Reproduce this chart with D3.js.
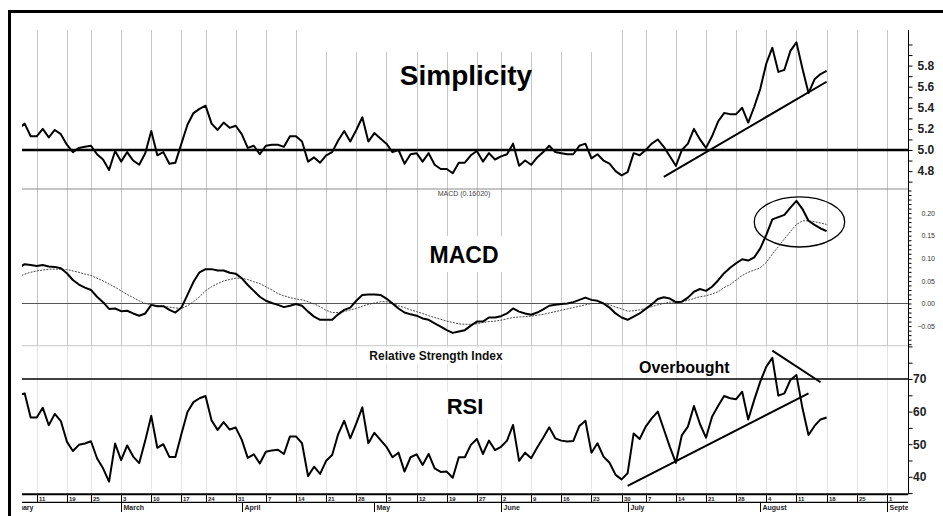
<!DOCTYPE html>
<html>
<head>
<meta charset="utf-8">
<script src="https://cdnjs.cloudflare.com/ajax/libs/d3/7.8.5/d3.min.js"></script>
<style>
  body { margin: 0; background: #fff; }
  svg { display: block; font-family: "Liberation Sans", Arial, sans-serif; }
</style>
</head>
<body>
<svg id="chart" width="943" height="516"></svg>
<script>
// ---- calendar ----
const holidays = ["2008-02-18", "2008-03-21", "2008-05-26", "2008-07-04", "2008-09-01"];
const dataStart = "2008-02-06";
const weekTicks = ["2008-02-11", "2008-02-19", "2008-02-25", "2008-03-03", "2008-03-10", "2008-03-17",
  "2008-03-24", "2008-03-31", "2008-04-07", "2008-04-14", "2008-04-21", "2008-04-28", "2008-05-05",
  "2008-05-12", "2008-05-19", "2008-05-27", "2008-06-02", "2008-06-09", "2008-06-16", "2008-06-23",
  "2008-06-30", "2008-07-07", "2008-07-14", "2008-07-21", "2008-07-28", "2008-08-04", "2008-08-11",
  "2008-08-18", "2008-08-25", "2008-09-01"];
const monthNames = ["February", "March", "April", "May", "June", "July", "August", "September"];
const monthStarts = ["2008-02-01", "2008-03-03", "2008-04-01", "2008-05-01", "2008-06-02", "2008-07-01",
  "2008-08-01", "2008-09-01"];

// ---- series, one value per trading day from Feb 6 to Aug 18 ----
const simplicity = [
  5.20, 5.25, 5.13,
  5.13, 5.20, 5.12, 5.19, 5.15,
  5.05, 4.98, 5.02, 5.03,
  5.04, 4.96, 4.91, 4.81, 4.99,
  4.89, 4.98, 4.90, 4.86, 4.97,
  5.18, 4.95, 4.98, 4.87, 4.88,
  5.06, 5.24, 5.35, 5.39,
  5.42, 5.25, 5.19, 5.26, 5.21,
  5.23, 5.15, 5.02, 5.04, 4.96,
  5.04, 5.05, 5.05, 5.03, 5.13,
  5.13, 5.08, 4.89, 4.93, 4.88,
  4.95, 4.98, 5.09, 5.18, 5.08,
  5.19, 5.31, 5.08, 5.16, 5.11,
  5.06, 4.98, 5.00, 4.87, 4.96,
  4.97, 4.89, 4.97, 4.86, 4.82,
  4.82, 4.78, 4.88, 4.88, 4.95,
  4.99, 4.89, 4.97, 4.91,
  4.94, 4.96, 5.06, 4.85, 4.90,
  4.86, 4.93, 4.98, 5.04, 4.98,
  4.97, 4.96, 4.96, 5.04, 5.06,
  4.92, 4.96, 4.90, 4.87, 4.80,
  4.76, 4.79, 4.97, 4.95,
  5.00, 5.06, 5.10, 5.03, 4.94,
  4.85, 5.00, 5.06, 5.20, 5.10,
  5.02, 5.13, 5.27, 5.35, 5.34,
  5.34, 5.40, 5.26, 5.41, 5.58,
  5.82, 5.97, 5.74, 5.76, 5.94,
  6.02, 5.77, 5.54, 5.67, 5.72,
  5.75
];
const macd = [
  0.079, 0.087, 0.085,
  0.083, 0.085, 0.082, 0.081, 0.078,
  0.067, 0.052, 0.042, 0.035,
  0.030, 0.015, 0.003, -0.012, -0.011,
  -0.017, -0.016, -0.022, -0.027, -0.022,
  -0.003, -0.006, -0.006, -0.014, -0.020,
  -0.009, 0.019, 0.048, 0.069,
  0.076, 0.076, 0.073, 0.073, 0.068,
  0.066, 0.056, 0.041, 0.028, 0.015,
  0.006, 0.001, -0.003, -0.008, -0.005,
  -0.001, -0.005, -0.018, -0.029, -0.036,
  -0.036, -0.036, -0.024, -0.014, -0.009,
  0.006, 0.019, 0.020, 0.020, 0.019,
  0.011, 0.000, -0.011, -0.020, -0.024,
  -0.027, -0.033, -0.036, -0.044, -0.051,
  -0.059, -0.065, -0.062, -0.059, -0.049,
  -0.040, -0.040, -0.031, -0.031,
  -0.028, -0.022, -0.011, -0.018, -0.022,
  -0.025, -0.020, -0.013, -0.005, -0.003,
  -0.001, 0.000, 0.003, 0.008, 0.013,
  0.008, 0.006, 0.000, -0.009, -0.022,
  -0.031, -0.036, -0.029, -0.022,
  -0.012, -0.002, 0.010, 0.014, 0.011,
  0.003, 0.004, 0.013, 0.026, 0.032,
  0.028, 0.037, 0.051, 0.067, 0.079,
  0.089, 0.098, 0.095, 0.102, 0.122,
  0.152, 0.186, 0.191, 0.196, 0.212,
  0.227, 0.209, 0.183, 0.174, 0.166,
  0.160
];
const signal = [
  0.059, 0.065, 0.069,
  0.072, 0.074, 0.076, 0.076, 0.076,
  0.075, 0.072, 0.069, 0.065,
  0.062, 0.056, 0.050, 0.043, 0.036,
  0.028, 0.020, 0.013, 0.006, 0.000,
  -0.003, -0.005, -0.006, -0.008, -0.010,
  -0.011, -0.005, 0.004, 0.015,
  0.028, 0.037, 0.044, 0.050, 0.053,
  0.056, 0.056, 0.053, 0.048, 0.044,
  0.037, 0.030, 0.022, 0.017, 0.013,
  0.010, 0.008, 0.004, -0.001, -0.007,
  -0.015, -0.020, -0.020, -0.018, -0.014,
  -0.011, -0.006, -0.002, 0.001, 0.004,
  0.004, 0.001, -0.005, -0.009, -0.014,
  -0.018, -0.022, -0.027, -0.031, -0.035,
  -0.039, -0.042, -0.045, -0.046, -0.046,
  -0.045, -0.042, -0.040, -0.039,
  -0.037, -0.034, -0.031, -0.030, -0.029,
  -0.028, -0.026, -0.024, -0.021, -0.018,
  -0.015, -0.012, -0.009, -0.006, -0.003,
  0.000, 0.000, 0.000, -0.003, -0.008,
  -0.012, -0.017, -0.016, -0.014,
  -0.011, -0.007, -0.003, 0.000, 0.003,
  0.003, 0.004, 0.007, 0.011, 0.015,
  0.017, 0.021, 0.026, 0.035, 0.042,
  0.052, 0.062, 0.069, 0.074, 0.079,
  0.091, 0.109, 0.126, 0.143, 0.159,
  0.175, 0.183, 0.183, 0.181, 0.178,
  0.175
];
const rsi = [
  65.0, 65.6, 58.2,
  58.2, 61.2, 55.8, 59.3, 57.1,
  50.8, 47.9, 49.8, 50.2,
  50.9, 45.7, 42.6, 38.5, 50.2,
  45.1, 49.6, 46.2, 44.2, 51.1,
  58.7, 48.9, 50.0, 46.1, 46.1,
  53.1, 59.9, 62.9, 64.1,
  64.8, 57.3, 54.4, 56.8, 54.5,
  55.1, 51.4, 45.8, 46.9, 44.1,
  47.7, 48.1, 48.3, 47.0, 52.4,
  52.4, 50.3, 40.2, 43.1, 40.9,
  44.9, 46.7, 53.1, 57.2, 51.8,
  56.4, 61.3, 50.3, 53.5, 51.3,
  49.2, 46.0, 47.4, 41.6, 46.0,
  46.9, 43.6, 47.0, 42.6, 41.5,
  41.6, 39.7, 46.0, 46.0, 49.8,
  51.6, 47.0, 51.1, 48.2,
  49.2, 51.1, 55.9, 44.9, 47.4,
  45.7, 49.0, 52.0, 55.2, 51.8,
  51.1, 50.8, 51.0, 55.6, 57.2,
  47.4, 50.3, 46.2, 44.3, 40.6,
  39.2, 41.1, 53.3, 51.6,
  55.4, 57.9, 60.0, 54.6, 49.2,
  44.3, 52.8, 55.4, 61.7, 56.2,
  52.0, 58.4, 61.7, 64.8, 64.1,
  63.8, 66.1, 57.6, 63.6, 69.2,
  73.8, 76.5, 64.9, 65.6, 69.7,
  71.2, 61.0, 52.8, 55.6, 57.6,
  58.2
];

// ---- axis ticks ----
const simpTicks = d3.range(47, 61).map(d => d / 10);
const simpLabels = [4.8, 5.0, 5.2, 5.4, 5.6, 5.8];
const macdTicks = d3.range(-9, 26).map(d => d / 100);
const macdLabels = [-0.05, 0, 0.05, 0.10, 0.15, 0.20];
const rsiTicks = d3.range(35, 81, 5);
const rsiLabels = [40, 50, 60, 70];

// ---- annotations (date, value) ----
const simpTrend = [["2008-07-10", 4.745], ["2008-08-18", 5.647]];
const rsiTrendUp = [["2008-07-01", 37.2], ["2008-08-13", 65.6]];
const rsiTrendDown = [["2008-08-05", 78.7], ["2008-08-15", 69.0]];
const macdRing = { start: "2008-07-31", end: "2008-08-21", low: 0.125, high: 0.236 };

// ---- setup ----
const parse = d3.timeParse("%Y-%m-%d");
const fmt = d3.timeFormat("%Y-%m-%d");
const days = d3.timeDay.range(parse("2008-01-28"), parse("2008-09-30"))
  .filter(d => d.getDay() !== 0 && d.getDay() !== 6 && !holidays.includes(fmt(d)));
const idx = s => d3.bisectLeft(days, parse(s));

const left = 22, right = 908;
const edge = { s: 30, m: 189, r: 345.7, axis: 494.3 };

const ref = idx("2008-02-11");
const first = idx(dataStart);
const x = d3.scaleLinear().domain([ref - 2.44, ref + 144.5]).range([left, right]);
const yS = d3.scaleLinear().domain([5, 6]).range([150, 44.5]);
const yM = d3.scaleLinear().domain([0, 0.2]).range([303.5, 213.1]);
const yR = d3.scaleLinear().domain([40, 70]).range([476.8, 379]);

const svg = d3.select("#chart");
const defs = svg.append("defs");
defs.append("clipPath").attr("id", "plot")
  .append("rect").attr("x", left).attr("y", edge.s).attr("width", right - left).attr("height", edge.axis - edge.s);
defs.append("clipPath").attr("id", "xstrip")
  .append("rect").attr("x", left).attr("y", edge.axis).attr("width", right - left).attr("height", 30);

// gridlines
let grid = svg.append("g");
weekTicks.forEach(t => {
  let gx = Math.round(x(idx(t))) + 0.5;
  grid.append("line").attr("x1", gx).attr("x2", gx).attr("y1", edge.s).attr("y2", edge.r)
    .attr("stroke", "#c6c6c6").attr("stroke-width", 1);
  grid.append("line").attr("x1", gx).attr("x2", gx).attr("y1", edge.r).attr("y2", edge.axis)
    .attr("stroke", "#e4e4e4").attr("stroke-width", 1);
});

// panel separators
svg.append("line").attr("x1", left).attr("x2", right).attr("y1", edge.m).attr("y2", edge.m)
  .attr("stroke", "#8a8a8a").attr("stroke-width", 1);
svg.append("line").attr("x1", left).attr("x2", right).attr("y1", edge.r).attr("y2", edge.r)
  .attr("stroke", "#c8c8c8").attr("stroke-width", 1);

// white boxes behind the labels
svg.append("rect").attr("x", 302).attr("y", edge.s).attr("width", 312).attr("height", 22).attr("fill", "#fff");
svg.append("rect").attr("x", 425).attr("y", 236).attr("width", 78).attr("height", 36).attr("fill", "#fff");
svg.append("rect").attr("x", 364).attr("y", 348).attr("width", 146).attr("height", 16).attr("fill", "#fff");
svg.append("rect").attr("x", 441).attr("y", 392).attr("width", 49).attr("height", 27).attr("fill", "#fff");

// reference lines
svg.append("line").attr("x1", left).attr("x2", right).attr("y1", yS(5)).attr("y2", yS(5))
  .attr("stroke", "#000").attr("stroke-width", 2.5);
svg.append("line").attr("x1", left).attr("x2", right).attr("y1", yM(0)).attr("y2", yM(0))
  .attr("stroke", "#555").attr("stroke-width", 1.2);
svg.append("line").attr("x1", left).attr("x2", right).attr("y1", yR(70)).attr("y2", yR(70))
  .attr("stroke", "#000").attr("stroke-width", 1.5);

// titles
svg.append("text").attr("x", 466).attr("y", 85).attr("text-anchor", "middle")
  .attr("font-size", 28).attr("font-weight", "bold").text("Simplicity");
svg.append("text").attr("x", 464).attr("y", 196).attr("text-anchor", "middle")
  .attr("font-size", 7).attr("fill", "#444").text("MACD (0.16020)");
svg.append("text").attr("x", 464).attr("y", 263).attr("text-anchor", "middle")
  .attr("font-size", 23).attr("font-weight", "bold").text("MACD");
svg.append("text").attr("x", 436).attr("y", 360).attr("text-anchor", "middle")
  .attr("font-size", 12).attr("font-weight", "bold").attr("fill", "#111").text("Relative Strength Index");
svg.append("text").attr("x", 465).attr("y", 414).attr("text-anchor", "middle")
  .attr("font-size", 22).attr("font-weight", "bold").text("RSI");
svg.append("text").attr("x", 639).attr("y", 373).attr("font-size", 16).attr("font-weight", "bold").text("Overbought");

// series
let plot = svg.append("g").attr("clip-path", "url(#plot)");
const series = (y) => d3.line().x((d, i) => x(first + i)).y(d => y(d));
plot.append("path").attr("d", series(yS)(simplicity))
  .attr("fill", "none").attr("stroke", "#000").attr("stroke-width", 2).attr("stroke-linejoin", "round");
plot.append("path").attr("d", series(yM)(signal))
  .attr("fill", "none").attr("stroke", "#333").attr("stroke-width", 0.9).attr("stroke-dasharray", "2,1.2");
plot.append("path").attr("d", series(yM)(macd))
  .attr("fill", "none").attr("stroke", "#000").attr("stroke-width", 2).attr("stroke-linejoin", "round");
plot.append("path").attr("d", series(yR)(rsi))
  .attr("fill", "none").attr("stroke", "#000").attr("stroke-width", 2).attr("stroke-linejoin", "round");

// annotations
const seg = (y) => d3.line().x(d => x(idx(d[0]))).y(d => y(d[1]));
plot.append("path").attr("d", seg(yS)(simpTrend)).attr("stroke", "#000").attr("stroke-width", 2).attr("fill", "none");
plot.append("path").attr("d", seg(yR)(rsiTrendUp)).attr("stroke", "#000").attr("stroke-width", 2).attr("fill", "none");
plot.append("path").attr("d", seg(yR)(rsiTrendDown)).attr("stroke", "#000").attr("stroke-width", 2).attr("fill", "none");
let x0 = x(idx(macdRing.start)), x1 = x(idx(macdRing.end));
plot.append("ellipse")
  .attr("cx", (x0 + x1) / 2).attr("cy", yM((macdRing.low + macdRing.high) / 2))
  .attr("rx", (x1 - x0) / 2).attr("ry", (yM(macdRing.low) - yM(macdRing.high)) / 2)
  .attr("fill", "none").attr("stroke", "#000").attr("stroke-width", 1.3);

// right axes
svg.append("line").attr("x1", right + 0.5).attr("x2", right + 0.5).attr("y1", edge.s).attr("y2", edge.axis)
  .attr("stroke", "#000").attr("stroke-width", 1);

function rightAxis(y, ticks, labels, fmtLabel, size, pad, anchor, weight, colour) {
  let ax = d3.axisRight(y).tickValues(ticks).tickSize(4).tickPadding(pad)
    .tickFormat(d => labels.some(l => Math.abs(l - d) < 1e-9) ? fmtLabel(d) : "");
  let g = svg.append("g").attr("transform", `translate(${right + 0.5},0)`).call(ax);
  g.select(".domain").remove();
  g.selectAll("text").attr("font-size", size).attr("font-weight", weight)
    .attr("font-family", "Liberation Sans, Arial, sans-serif")
    .attr("text-anchor", anchor).attr("fill", colour);
  return g;
}
rightAxis(yS, simpTicks, simpLabels, d3.format(".1f"), 12, 5, "start", "bold", "#222");
rightAxis(yM, macdTicks, macdLabels, d3.format(".2f"), 7, 22.5, "end", "normal", "#333")
  .selectAll(".tick line").attr("x2", 3);
rightAxis(yR, rsiTicks, rsiLabels, d3.format("d"), 12, 0.5, "start", "bold", "#222");

// bottom date strip
svg.append("line").attr("x1", left).attr("x2", right).attr("y1", edge.axis).attr("y2", edge.axis)
  .attr("stroke", "#000").attr("stroke-width", 2);
svg.append("line").attr("x1", left).attr("x2", right).attr("y1", 502.3).attr("y2", 502.3)
  .attr("stroke", "#000").attr("stroke-width", 1.3);
let strip = svg.append("g").attr("clip-path", "url(#xstrip)");
weekTicks.forEach(t => {
  let tx = Math.round(x(idx(t))) + 0.5;
  strip.append("line").attr("x1", tx).attr("x2", tx).attr("y1", edge.axis).attr("y2", 502)
    .attr("stroke", "#000").attr("stroke-width", 1);
  strip.append("text").attr("x", tx + 1.5).attr("y", 500.8).attr("font-size", 6)
    .attr("font-weight", "bold").attr("fill", "#222").text(d3.timeFormat("%-d")(parse(t)));
});
monthStarts.forEach((m, i) => {
  let mx = Math.round(x(idx(m))) + 0.5;
  strip.append("line").attr("x1", mx).attr("x2", mx).attr("y1", 502).attr("y2", 512)
    .attr("stroke", "#000").attr("stroke-width", 1);
  strip.append("text").attr("x", mx + 2).attr("y", 510).attr("font-size", 7)
    .attr("font-weight", "bold").attr("fill", "#222").text(monthNames[i]);
});

// outer frame
svg.append("line").attr("x1", 8).attr("x2", 943).attr("y1", 11.5).attr("y2", 11.5)
  .attr("stroke", "#000").attr("stroke-width", 3);
svg.append("line").attr("x1", 9.5).attr("x2", 9.5).attr("y1", 10).attr("y2", 516)
  .attr("stroke", "#000").attr("stroke-width", 3);
</script>
</body>
</html>
